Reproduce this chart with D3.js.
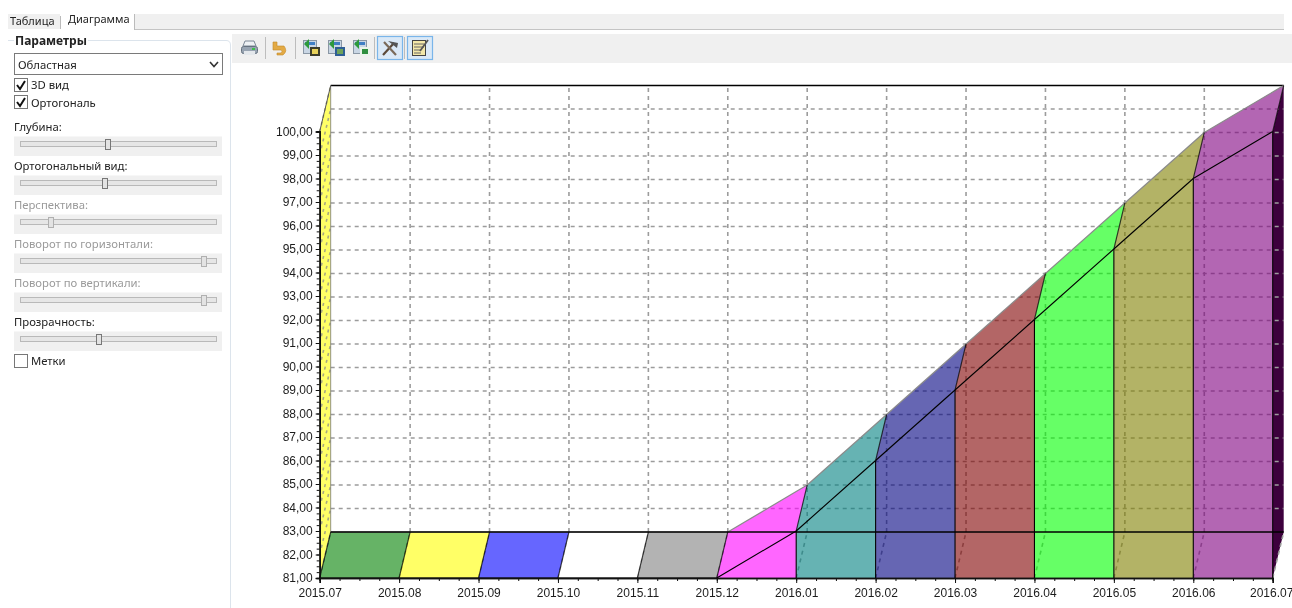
<!DOCTYPE html>
<html>
<head>
<meta charset="utf-8">
<script src="https://cdn.jsdelivr.net/npm/d3@7"></script>
<style>
    html, body { margin: 0; padding: 0; background: #fff; overflow: hidden; }
    svg { display: block; filter: blur(0.3px); }
    .ui { font-family: "Noto Sans", sans-serif; font-size: 11.3px; fill: #222; }
    .tab { font-size: 11px; }
    .off { fill: #9a9a9a; }
    .axis text { font-family: "Liberation Sans", Arial, sans-serif; font-size: 12px; fill: #1c1c1c; }
    .axis path, .axis line { stroke: #111; }
</style>
</head>
<body>
<div id="chart"></div>
<script>
// chart data
const months = ["2015.07", "2015.08", "2015.09", "2015.10", "2015.11", "2015.12", "2016.01",
    "2016.02", "2016.03", "2016.04", "2016.05", "2016.06", "2016.07"];
const values = [81, 81, 81, 81, 81, 81, 83, 86, 89, 92, 95, 98, 100];
const segmentColors = ["#008000", "#ffff00", "#0000ff", "#ffffff", "#808080", "#ff00ff",
    "#008080", "#000080", "#800000", "#00ff00", "#808000", "#800080"];
const yTicks = d3.range(81, 101);

// side panel content
const sliders = [
    {label: "Глубина:", y: 127, thumb: 108, off: false},
    {label: "Ортогональный вид:", y: 166, thumb: 105, off: false},
    {label: "Перспектива:", y: 205, thumb: 51, off: true},
    {label: "Поворот по горизонтали:", y: 244, thumb: 204, off: true},
    {label: "Поворот по вертикали:", y: 283, thumb: 204, off: true},
    {label: "Прозрачность:", y: 322, thumb: 99, off: false}
];

const svg = d3.select("#chart").append("svg")
    .attr("width", 1292)
    .attr("height", 608);

// 3D depth of the chart box, in pixels
const depthX = 11;
const depthY = -46;

const x = d3.scaleLinear().domain([0, 12]).range([319.7, 1272.7]);
const y = d3.scaleLinear().domain([81, 100]).range([578, 131.5]);
const line = d3.line();

drawChrome();
drawChart();

function drawChart() {
    let g = svg.append("g");

    // side walls
    g.append("path")
        .attr("d", line([[x(0), y(100)], [x(0) + depthX, y(100) + depthY], [x(0) + depthX, y(81) + depthY], [x(0), y(81)]]) + "Z")
        .attr("fill", "#ffff66");
    g.append("path")
        .attr("d", line([[x(12), y(100)], [x(12) + depthX, y(100) + depthY], [x(12) + depthX, y(81) + depthY], [x(12), y(81)]]) + "Z")
        .attr("fill", "#3d003d");

    // grid on back wall, left wall and floor
    let grid = g.append("g")
        .attr("fill", "none")
        .attr("stroke", "#9c9c9c")
        .attr("stroke-width", 1.6)
        .attr("stroke-dasharray", "4,4");
    yTicks.slice(1, -1).forEach(function(v) {
        grid.append("path").attr("d", line([[x(0) + depthX, y(v) + depthY], [x(12) + depthX, y(v) + depthY]]));
    });
    yTicks.slice(1).forEach(function(v) {
        grid.append("path").attr("d", line([[x(0), y(v)], [x(0) + depthX, y(v) + depthY]]))
            .attr("stroke", "#a8a880").attr("stroke-dasharray", "3,4");
    });
    d3.range(1, 12).forEach(function(i) {
        grid.append("path").attr("d", line([[x(i) + depthX, y(81) + depthY], [x(i) + depthX, y(100) + depthY]]));
    });
    d3.range(0, 13).forEach(function(i) {
        grid.append("path").attr("d", line([[x(i), y(81)], [x(i) + depthX, y(81) + depthY]]));
    });

    // back wall frame
    g.append("path")
        .attr("d", line([[x(0) + depthX, y(100) + depthY], [x(12) + depthX, y(100) + depthY]]))
        .attr("stroke", "#000").attr("fill", "none").attr("stroke-width", 1.4);
    g.append("path")
        .attr("d", line([[x(0) + depthX, y(81) + depthY], [x(0) + depthX, y(100) + depthY]]))
        .attr("stroke", "#777").attr("fill", "none").attr("stroke-width", 0.8);
    g.append("path")
        .attr("d", line([[x(0), y(100)], [x(0) + depthX, y(100) + depthY]]))
        .attr("stroke", "#555").attr("fill", "none").attr("stroke-width", 1);

    // one area segment per month, front face and top ribbon in one shape
    d3.range(0, 12).forEach(function(i) {
        let x0 = x(i), x1 = x(i + 1), y0 = y(values[i]), y1 = y(values[i + 1]);
        g.append("path")
            .attr("d", line([[x0, y(81)], [x0, y0], [x0 + depthX, y0 + depthY], [x1 + depthX, y1 + depthY], [x1, y1], [x1, y(81)]]) + "Z")
            .attr("fill", segmentColors[i])
            .attr("fill-opacity", 0.6);
        // back edge of the ribbon
        g.append("path")
            .attr("d", line([[x0 + depthX, y0 + depthY], [x1 + depthX, y1 + depthY]]))
            .attr("stroke", "#8a8a8a").attr("fill", "none").attr("stroke-width", 1.2);
    });

    // outlines on top of the fills
    let edges = g.append("g")
        .attr("fill", "none")
        .attr("stroke", "#000")
        .attr("stroke-width", 1.1);
    edges.append("path")
        .attr("d", line([[x(0) + depthX, y(81) + depthY], [x(12) + depthX, y(81) + depthY]]))
        .attr("stroke-width", 1.3);
    d3.range(0, 12).forEach(function(i) {
        edges.append("path").attr("d", line([[x(i), y(values[i])], [x(i + 1), y(values[i + 1])]]));
    });
    d3.range(0, 13).forEach(function(i) {
        edges.append("path").attr("d", line([[x(i), y(values[i])], [x(i) + depthX, y(values[i]) + depthY]]))
            .attr("stroke-opacity", 0.75);
        if (values[i] > 81) {
            edges.append("path").attr("d", line([[x(i), y(81)], [x(i), y(values[i])]]));
        }
    });

    // axes
    let xAxis = d3.axisBottom(x)
        .tickValues(d3.range(0, 13))
        .tickFormat(i => months[i])
        .tickSize(5)
        .tickPadding(5);
    let xMinor = d3.axisBottom(x)
        .tickValues(d3.range(0, 12.01, 0.25))
        .tickFormat("")
        .tickSize(3);
    let yAxis = d3.axisLeft(y)
        .tickValues(yTicks)
        .tickFormat(v => d3.format(".2f")(v).replace(".", ","))
        .tickSize(4)
        .tickPadding(3);
    let yMinor = d3.axisLeft(y)
        .tickValues(d3.range(81, 100.01, 0.25))
        .tickFormat("")
        .tickSize(3);

    let xMinorG = g.append("g").attr("class", "axis").attr("transform", "translate(0,578)").call(xMinor);
    let xAxisG = g.append("g").attr("class", "axis").attr("transform", "translate(0,578)").call(xAxis);
    g.append("g").attr("class", "axis").attr("transform", "translate(319.7,0)").call(yMinor);
    g.append("g").attr("class", "axis").attr("transform", "translate(319.7,0)").call(yAxis);
    g.selectAll(".axis .domain").attr("stroke-width", 1.6);
    xMinorG.select(".domain").attr("stroke", "#333");
    xAxisG.select(".domain").attr("stroke", "#333");
    // last label sits right at the window edge
    xAxisG.selectAll(".tick text").filter(i => i === 12).attr("dx", -1.5);
}

function drawChrome() {
    let ui = svg.append("g");

    // tabs
    ui.append("rect").attr("x", 8).attr("y", 14).attr("width", 1276).attr("height", 15).attr("fill", "#f0f0f0");
    ui.append("line").attr("x1", 135).attr("x2", 1284).attr("y1", 29.5).attr("y2", 29.5).attr("stroke", "#c4c4c4");
    ui.append("rect").attr("x", 60).attr("y", 13).attr("width", 75).attr("height", 18).attr("fill", "#fff");
    ui.append("path").attr("d", "M60.5,16V29M134.5,14V30").attr("stroke", "#bbb").attr("fill", "none");
    ui.append("text").attr("class", "ui tab").attr("x", 10).attr("y", 25).text("Таблица");
    ui.append("text").attr("class", "ui tab").attr("x", 68).attr("y", 23).text("Диаграмма");

    // panel group box
    ui.append("path").attr("d", "M14,40.5H8M88,40.5H226Q230.5,40.5 230.5,45V608").attr("stroke", "#dce4ec").attr("fill", "none");
    ui.append("text").attr("class", "ui").attr("x", 15).attr("y", 45)
        .attr("font-weight", "bold").style("font-size", "12px").text("Параметры");

    // combo box
    ui.append("rect").attr("x", 14.5).attr("y", 53.5).attr("width", 208).attr("height", 21).attr("fill", "#fff").attr("stroke", "#7a7a7a");
    ui.append("text").attr("class", "ui").attr("x", 18).attr("y", 69).text("Областная");
    ui.append("path").attr("d", "M210,62L214,66.5L218,62").attr("fill", "none").attr("stroke", "#333").attr("stroke-width", 1.6);

    // check boxes
    checkBox(ui, 15, 79, true, "3D вид", 31, 89);
    checkBox(ui, 15, 96, true, "Ортогональ", 31, 107);
    checkBox(ui, 15, 355, false, "Метки", 31, 365);

    // sliders
    sliders.forEach(function(s) {
        ui.append("text").attr("class", s.off ? "ui off" : "ui").attr("x", 14).attr("y", s.y + 4).text(s.label);
        ui.append("rect").attr("x", 14).attr("y", s.y + 9.5).attr("width", 208).attr("height", 19.5).attr("fill", "#f0f0f0");
        ui.append("rect").attr("x", 20.5).attr("y", s.y + 14.5).attr("width", 196).attr("height", 5).attr("fill", "#e6e6e6").attr("stroke", "#b9b9b9");
        ui.append("rect").attr("x", s.thumb - 2.5).attr("y", s.y + 12.5).attr("width", 5).attr("height", 10)
            .attr("fill", "#e3e3e3").attr("stroke", s.off ? "#b0b0b0" : "#777");
    });

    // toolbar
    ui.append("rect").attr("x", 232).attr("y", 34).attr("width", 1060).attr("height", 29).attr("fill", "#f0f0f0");
    [265, 295, 374, 404].forEach(function(sx) {
        ui.append("line").attr("x1", sx + 0.5).attr("x2", sx + 0.5).attr("y1", 37).attr("y2", 59).attr("stroke", "#bdbdbd");
    });
    [[377, 25], [407, 25]].forEach(function(b) {
        ui.append("rect").attr("x", b[0] + 0.5).attr("y", 36.5).attr("width", b[1]).attr("height", 23)
            .attr("fill", "#dbe9f7").attr("stroke", "#7ab5ea").attr("stroke-width", 1.2);
    });

    // printer
    ui.append("path").attr("d", "M245,41H254L256,46H243Z").attr("fill", "#eef1f4").attr("stroke", "#7c8896");
    ui.append("rect").attr("x", 241.5).attr("y", 46.5).attr("width", 16).attr("height", 7).attr("rx", 2).attr("fill", "#98a4b2").attr("stroke", "#667280");
    ui.append("rect").attr("x", 244).attr("y", 51).attr("width", 11).attr("height", 4).attr("fill", "#e4e8ec");
    ui.append("rect").attr("x", 252).attr("y", 48).attr("width", 3).attr("height", 2).attr("fill", "#3cc04a");
    // undo
    ui.append("path").attr("d", "M273,42V50H281Q283,51 281,53H277V55H283Q288,51 284,46H277V42Z").attr("fill", "#e3aa45").attr("stroke", "#c48a2a").attr("stroke-width", 0.6);
    // export icons
    [[303, "#3d3d2a", "#e8d25a"], [328, "#2f5f95", "#6fa35a"], [353, "#eaf4ea", "#2f8f3f"]].forEach(function(ic) {
        ui.append("rect").attr("x", ic[0] + 0.5).attr("y", 40.5).attr("width", 13).attr("height", 13).attr("fill", "#c9d6e4").attr("stroke", "#8a97a5");
        ui.append("rect").attr("x", ic[0] + 2).attr("y", 42).attr("width", 10).attr("height", 3).attr("fill", "#3f7fc4");
        ui.append("path").attr("d", `M${ic[0] + 6},39L${ic[0] + 1},44L${ic[0] + 6},49Z`).attr("fill", "#2e9a3c");
        ui.append("rect").attr("x", ic[0] + 7).attr("y", 47).attr("width", 10).attr("height", 9).attr("fill", ic[1]);
        ui.append("rect").attr("x", ic[0] + 9).attr("y", 49).attr("width", 6).attr("height", 5).attr("fill", ic[2]);
    });
    // tools
    ui.append("path").attr("d", "M383,55L394,43").attr("stroke", "#5c4a3a").attr("stroke-width", 2.2).attr("fill", "none");
    ui.append("path").attr("d", "M384,42L396,55").attr("stroke", "#7a6a5a").attr("stroke-width", 2.2).attr("fill", "none");
    ui.append("path").attr("d", "M388,41L398,43L397,48Z").attr("fill", "#555");
    // notepad
    ui.append("rect").attr("x", 412.5).attr("y", 40.5).attr("width", 13).attr("height", 15).attr("fill", "#f3e7a8").attr("stroke", "#444");
    ui.append("path").attr("d", "M414,44H424M414,47H424M414,50H421M414,53H421").attr("stroke", "#666").attr("fill", "none");
    ui.append("path").attr("d", "M420,51L428,40").attr("stroke", "#555").attr("stroke-width", 1.8).attr("fill", "none");
}

function checkBox(parent, bx, by, checked, label, tx, ty) {
    parent.append("rect").attr("x", bx - 0.5).attr("y", by - 0.5).attr("width", 13).attr("height", 13)
        .attr("fill", "#fff").attr("stroke", "#777");
    if (checked) {
        parent.append("path").attr("d", `M${bx + 2},${by + 6}L${bx + 5},${by + 10}L${bx + 10},${by + 2}`)
            .attr("fill", "none").attr("stroke", "#111").attr("stroke-width", 2);
    }
    parent.append("text").attr("class", "ui").attr("x", tx).attr("y", ty).text(label);
}
</script>
</body>
</html>
